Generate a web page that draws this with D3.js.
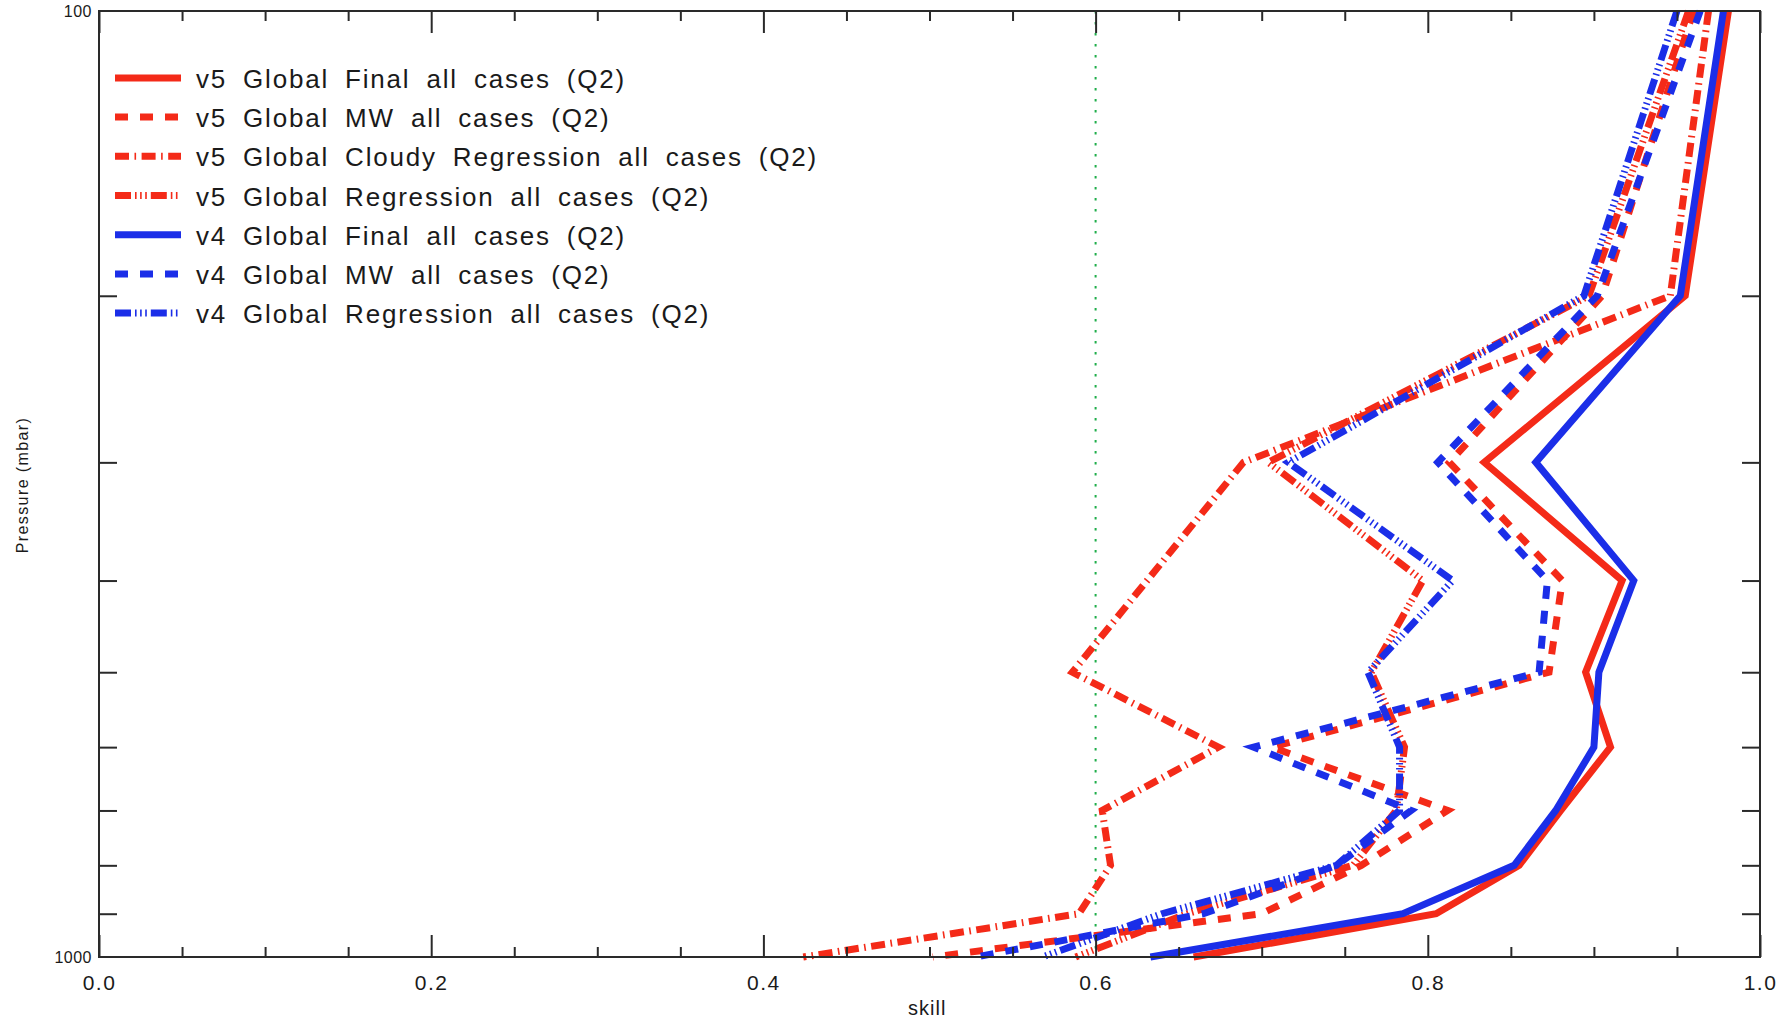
<!DOCTYPE html>
<html><head><meta charset="utf-8">
<script src="https://cdn.jsdelivr.net/npm/d3@7"></script>
<style>
body{margin:0;background:#fff;}
svg{display:block;}
text{font-family:"Liberation Sans",Arial,sans-serif;fill:#1a1a1a;}
</style></head><body>
<svg id="chart" width="1791" height="1020"></svg>
<script>
// ---- data ----
const levels = [100, 200, 300, 400, 500, 600, 700, 800, 900, 1000];
const v5Final  = [0.981, 0.955, 0.834, 0.917, 0.895, 0.910, 0.880, 0.855, 0.805, 0.659];
const v5MW     = [0.960, 0.905, 0.813, 0.881, 0.873, 0.706, 0.812, 0.760, 0.700, 0.502];
const v5Cloudy = [0.969, 0.946, 0.689, 0.631, 0.586, 0.674, 0.604, 0.609, 0.590, 0.424];
const v5Reg    = [0.957, 0.897, 0.704, 0.797, 0.766, 0.786, 0.781, 0.755, 0.655, 0.588];
const v4Final  = [0.978, 0.952, 0.865, 0.924, 0.903, 0.900, 0.877, 0.852, 0.785, 0.633];
const v4MW     = [0.964, 0.902, 0.806, 0.872, 0.867, 0.695, 0.790, 0.745, 0.665, 0.528];
const v4Reg    = [0.950, 0.894, 0.716, 0.815, 0.764, 0.783, 0.783, 0.745, 0.640, 0.568];

const seriesNames = [
  "v5 Global Final all cases (Q2)",
  "v5 Global MW all cases (Q2)",
  "v5 Global Cloudy Regression all cases (Q2)",
  "v5 Global Regression all cases (Q2)",
  "v4 Global Final all cases (Q2)",
  "v4 Global MW all cases (Q2)",
  "v4 Global Regression all cases (Q2)"
];
const seriesValues = [v5Final, v5MW, v5Cloudy, v5Reg, v4Final, v4MW, v4Reg];
const seriesColor = ["red", "red", "red", "red", "blue", "blue", "blue"];
const seriesStyle = ["solid", "dash", "dashdot", "dash3dot", "solid", "dash", "dash3dot"];

const xMajorTicks = [0.0, 0.2, 0.4, 0.6, 0.8, 1.0];
const xMinorTicks = [0.05, 0.1, 0.15, 0.25, 0.3, 0.35, 0.45, 0.5, 0.55, 0.65, 0.7, 0.75, 0.85, 0.9, 0.95];
const yMinorTicks = [200, 300, 400, 500, 600, 700, 800, 900];
const yLabelTicks = [100, 1000];
const refSkill = 0.6;
const xTitle = "skill";
const yTitle = "Pressure (mbar)";

// ---- styles ----
const colors = {red: "#f42a18", blue: "#1b2ee8"};
const dashes = {
  solid: null,
  dash: "13,12",
  dashdot: "14,5.5,1.6,5.5",
  dash3dot: "16,4,1.6,3.5,1.6,3.5,1.6,4"
};

const svg = d3.select("#chart");
const L = 99, R = 1760, T = 11, B = 957;
const x = d3.scaleLinear().domain([0, 1]).range([L, R]);
const y = d3.scaleLog().domain([100, 1000]).range([T, B]);

// reference line
svg.append("line")
  .attr("x1", x(refSkill)).attr("x2", x(refSkill))
  .attr("y1", T).attr("y2", B)
  .attr("stroke", "#1fae4a").attr("stroke-width", 2)
  .attr("stroke-dasharray", "2.5,8.5");

// series
const line = d3.line().x(d => x(d[0])).y(d => y(d[1]));
const g = svg.append("g");
seriesValues.forEach((vals, i) => {
  const pts = vals.map((v, k) => [v, levels[k]]);
  g.append("path")
    .attr("d", line(pts))
    .attr("fill", "none")
    .attr("stroke", colors[seriesColor[i]])
    .attr("stroke-width", 7)
    .attr("stroke-linejoin", "miter")
    .attr("stroke-linecap", "butt")
    .attr("stroke-dasharray", dashes[seriesStyle[i]]);
});

// axes
function styleAxis(sel) {
  sel.select(".domain").remove();
  sel.selectAll(".tick line").attr("stroke", "#2a2a2a").attr("stroke-width", 2);
}
svg.append("g").attr("transform", `translate(0,${B})`)
  .call(d3.axisBottom(x).tickValues(xMinorTicks).tickSize(-10).tickFormat(""))
  .call(styleAxis);
const xb = svg.append("g").attr("transform", `translate(0,${B})`)
  .call(d3.axisBottom(x).tickValues(xMajorTicks).tickSize(-22).tickPadding(18).tickFormat(d3.format(".1f")))
  .call(styleAxis);
xb.selectAll("text").attr("font-size", 21).attr("letter-spacing", 1.5)
  .style("font-family", '"Liberation Sans",Arial,sans-serif').attr("fill", "#1a1a1a");
svg.append("g").attr("transform", `translate(0,${T})`)
  .call(d3.axisTop(x).tickValues(xMinorTicks).tickSize(-10).tickFormat(""))
  .call(styleAxis);
svg.append("g").attr("transform", `translate(0,${T})`)
  .call(d3.axisTop(x).tickValues(xMajorTicks).tickSize(-22).tickFormat(""))
  .call(styleAxis);
svg.append("g").attr("transform", `translate(${L},0)`)
  .call(d3.axisLeft(y).tickValues(yMinorTicks).tickSize(-18).tickFormat(""))
  .call(styleAxis);
svg.append("g").attr("transform", `translate(${R},0)`)
  .call(d3.axisRight(y).tickValues(yMinorTicks).tickSize(-18).tickFormat(""))
  .call(styleAxis);
const yl = svg.append("g").attr("transform", `translate(${L},0)`)
  .call(d3.axisLeft(y).tickValues(yLabelTicks).tickSize(0).tickPadding(7).tickFormat(d3.format("d")))
  .call(styleAxis);
yl.selectAll("text").attr("font-size", 16).attr("letter-spacing", 0.5)
  .style("font-family", '"Liberation Sans",Arial,sans-serif').attr("fill", "#1a1a1a");

// frame
svg.append("rect").attr("x", L).attr("y", T).attr("width", R - L).attr("height", B - T)
  .attr("fill", "none").attr("stroke", "#2a2a2a").attr("stroke-width", 2);

// titles
svg.append("text").attr("x", 908).attr("y", 1015).attr("font-size", 20)
  .attr("letter-spacing", 1).text(xTitle);
svg.append("text").attr("transform", "translate(28,485) rotate(-90)")
  .attr("text-anchor", "middle").attr("font-size", 16).attr("letter-spacing", 1.4)
  .text(yTitle);

// legend
const leg = svg.append("g");
seriesNames.forEach((name, i) => {
  const ly = 77.9 + i * 39.2;
  leg.append("line").attr("x1", 115).attr("x2", 181).attr("y1", ly).attr("y2", ly)
    .attr("stroke", colors[seriesColor[i]]).attr("stroke-width", 7)
    .attr("stroke-linecap", "butt")
    .attr("stroke-dasharray", dashes[seriesStyle[i]]);
  leg.append("text").attr("x", 196).attr("y", ly + 10).attr("font-size", 26)
    .attr("letter-spacing", 1.8).attr("word-spacing", 7).text(name);
});
</script>
</body></html>
